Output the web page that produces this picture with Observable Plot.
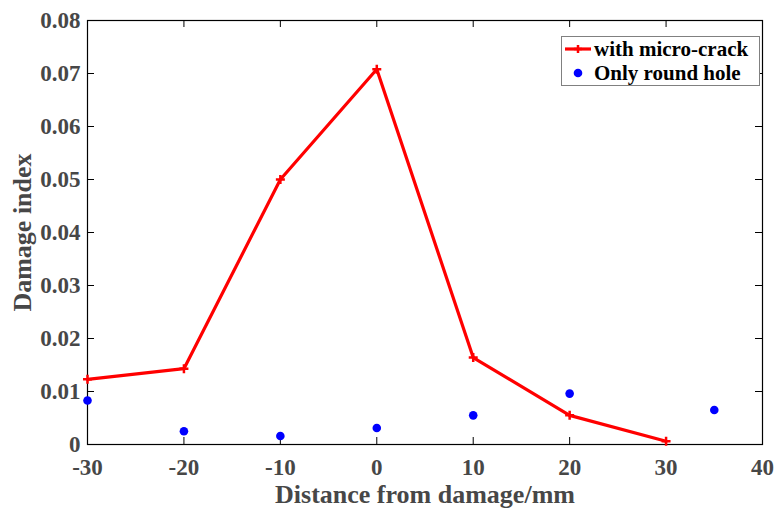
<!DOCTYPE html>
<html>
<head>
<meta charset="utf-8">
<script src="https://cdn.jsdelivr.net/npm/d3@7"></script>
<script src="https://cdn.jsdelivr.net/npm/@observablehq/plot@0.6"></script>
<style>
  html, body { margin: 0; padding: 0; background: #fff; }
  #wrap { position: relative; width: 776px; height: 511px; overflow: hidden; }
  #legend {
    position: absolute; left: 561px; top: 36px; width: 197px; height: 48px;
    border: 1px solid #808080; background: #fff;
    font-family: "Liberation Serif", serif; font-weight: bold; font-size: 21px; color: #000;
  }
  .row { position: absolute; left: 0; height: 24px; line-height: 24px; display: flex; align-items: center; white-space: nowrap; }
  .row svg { flex: none; }
</style>
</head>
<body>
<div id="wrap"></div>
<script>
const xWith = [-30, -20, -10, 0, 10, 20, 30];
const yWith = [0.0123, 0.0143, 0.0500, 0.0708, 0.0164, 0.0055, 0.0006];
const xHole = [-30, -20, -10, 0, 10, 20, 35];
const yHole = [0.0083, 0.0025, 0.0016, 0.0031, 0.0055, 0.0096, 0.0065];
const xTicks = [-30, -20, -10, 0, 10, 20, 30, 40];
const yTicks = [0, 0.01, 0.02, 0.03, 0.04, 0.05, 0.06, 0.07, 0.08];
const seriesNames = ["with micro-crack", "Only round hole"];
const xTitle = "Distance from damage/mm";
const yTitle = "Damage index";

const withData = xWith.map((x, i) => ({x, y: yWith[i]}));
const holeData = xHole.map((x, i) => ({x, y: yHole[i]}));

const W = 776, H = 511;
const mL = 87, mR = 14, mT = 20, mB = 67;
const iw = W - mL - mR, ih = H - mT - mB;
const tl = 7;
const font = "Liberation Serif";
const gray = "#474747";

const chart = Plot.plot({
  width: W, height: H,
  marginLeft: mL, marginRight: mR, marginTop: mT, marginBottom: mB,
  style: {fontFamily: font, background: "#fff"},
  x: {domain: [-30, 40], ticks: xTicks},
  y: {domain: [0, 0.08], ticks: yTicks},
  marks: [
    Plot.axisX(xTicks, {tickSize: 0, tickPadding: 14, fontSize: 23, fontWeight: "bold", fill: gray, label: null, tickFormat: d => String(d)}),
    Plot.axisY(yTicks, {tickSize: 0, tickPadding: 7, fontSize: 23, fontWeight: "bold", fill: gray, label: null, tickFormat: d => d === 0 ? "0" : d3.format(".2f")(d)}),
    Plot.tickX(xTicks, {x: d => d, insetTop: ih - tl, stroke: "#000"}),
    Plot.tickX(xTicks, {x: d => d, insetBottom: ih - tl, stroke: "#000"}),
    Plot.tickY(yTicks, {y: d => d, insetRight: iw - tl, stroke: "#000"}),
    Plot.tickY(yTicks, {y: d => d, insetLeft: iw - tl, stroke: "#000"}),
    Plot.frame({stroke: "#000", strokeWidth: 1.2}),
    Plot.line(withData, {x: "x", y: "y", stroke: "#ff0000", strokeWidth: 3.2}),
    Plot.dot(withData, {x: "x", y: "y", symbol: "plus", r: 3, stroke: "#ff0000", strokeWidth: 2.5}),
    Plot.dot(holeData, {x: "x", y: "y", r: 4.3, fill: "#0000ff", stroke: "none"}),
    Plot.text([xTitle], {frameAnchor: "bottom", dy: 50, fontSize: 26, fontWeight: "bold", fill: gray, lineAnchor: "middle", textAnchor: "middle"}),
    Plot.text([yTitle], {frameAnchor: "left", dx: -65, rotate: -90, fontSize: 26, fontWeight: "bold", fill: gray, lineAnchor: "middle", textAnchor: "middle"})
  ]
});

const wrap = document.getElementById("wrap");
wrap.appendChild(chart);

const legend = document.createElement("div");
legend.id = "legend";
legend.innerHTML = `
  <div class="row" style="top:0px">
    <svg width="32" height="20"><line x1="3" y1="10" x2="29" y2="10" stroke="#ff0000" stroke-width="3.2"/><line x1="12" y1="10" x2="20" y2="10" stroke="#ff0000" stroke-width="2.5"/><line x1="16" y1="6" x2="16" y2="14" stroke="#ff0000" stroke-width="2.5"/></svg>
    <span>${seriesNames[0]}</span>
  </div>
  <div class="row" style="top:24px">
    <svg width="32" height="20"><circle cx="16" cy="10" r="4.3" fill="#0000ff"/></svg>
    <span>${seriesNames[1]}</span>
  </div>`;
wrap.appendChild(legend);
</script>
</body>
</html>
